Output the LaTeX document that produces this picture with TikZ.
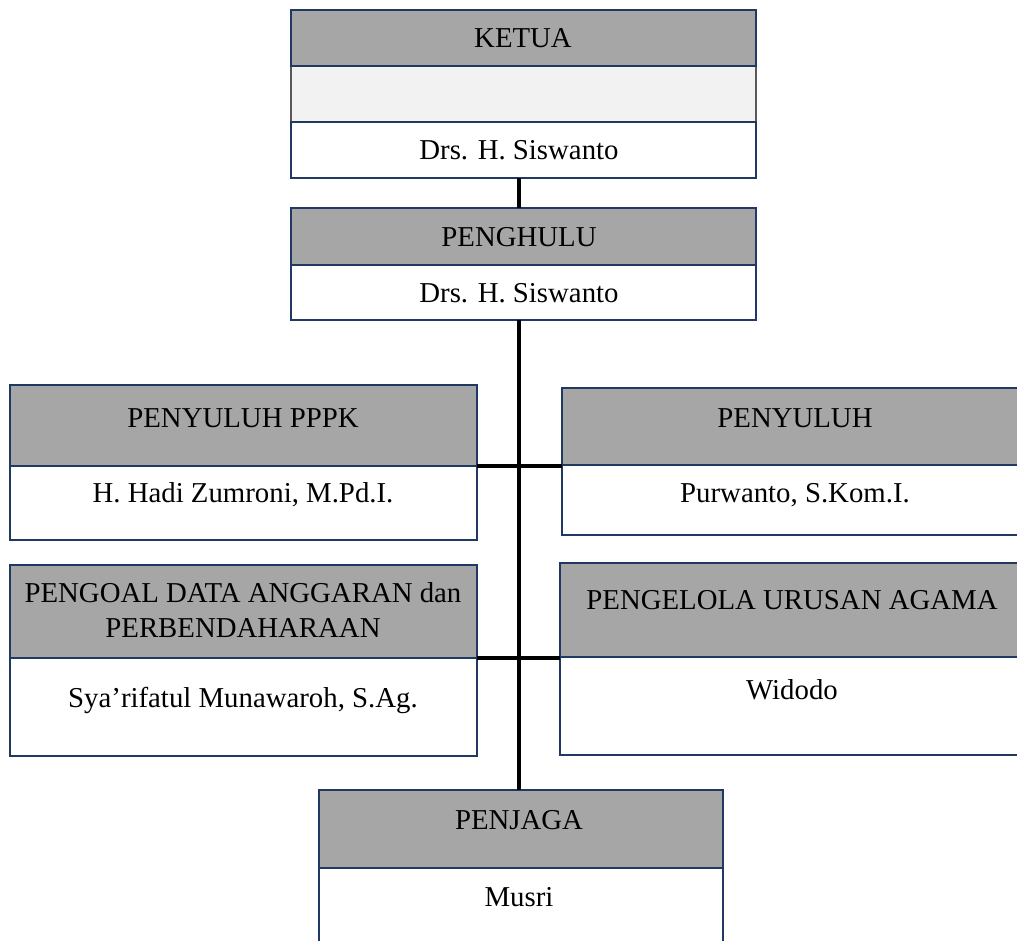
\documentclass[tikz,border=0pt]{standalone}
\usepackage{fontspec}
\setmainfont{Liberation Serif}
\usetikzlibrary{positioning}
\definecolor{navy}{HTML}{1F3864}
\definecolor{headgray}{HTML}{A6A6A6}
\definecolor{pale}{HTML}{F2F2F2}
\definecolor{sidegray}{HTML}{595959}

\begin{document}
\begin{tikzpicture}[x=1pt, y=-1pt,
			head/.style={draw=navy, line width=2.5pt, fill=headgray, inner sep=0pt, outer sep=0pt},
			namebox/.style={draw=navy, line width=2.5pt, fill=white, inner sep=0pt, outer sep=0pt},
			emptybox/.style={draw=sidegray, line width=2pt, fill=pale, inner sep=0pt, outer sep=0pt},
			txt/.style={inner sep=0pt, text height=19pt, text depth=0pt},
			conn/.style={line width=4.5pt, black},
			font=\fontsize{28.8}{34.5}\selectfont]
	\useasboundingbox (0,0) rectangle (1017,940);
	\clip (0,0) rectangle (1017,940);
	\coordinate (spine) at (519,0);
	% ketua
	\node[emptybox, minimum width=465pt, minimum height=56pt] (ketuaM) at (523.5,94) {};
	\node[head, minimum width=465pt, minimum height=56pt] (ketuaH) at (523.5,38) {};
	\node[namebox, minimum width=465pt, minimum height=56pt] (ketuaN) at (523.5,150) {};
	\node[txt] (ketuaT) at (523,38) {KETUA};
	\node[txt] (ketuaNm) at (519,150) {Drs. H. Siswanto};
	% penghulu
	\node[head, minimum width=465pt, minimum height=57pt] (pengH) at (523.5,236.5) {};
	\node[namebox, minimum width=465pt, minimum height=55pt] (pengN) at (523.5,292.5) {};
	\node[txt] (pengT) at (519,237) {PENGHULU};
	\node[txt] (pengNm) at (519,293) {Drs. H. Siswanto};
	% penyuluh pppk
	\node[head, minimum width=467pt, minimum height=81pt] (pppkH) at (243.5,425.5) {};
	\node[namebox, minimum width=467pt, minimum height=74pt] (pppkN) at (243.5,503) {};
	\node[txt] (pppkT) at (243,418) {PENYULUH PPPK};
	\node[txt] (pppkNm) at (243,493) {H. Hadi Zumroni, M.Pd.I.};
	% penyuluh
	\node[head, minimum width=466pt, minimum height=77pt] (penyH) at (795,426.5) {};
	\node[namebox, minimum width=466pt, minimum height=70pt] (penyN) at (795,500) {};
	\node[txt] (penyT) at (795,418) {PENYULUH};
	\node[txt] (penyNm) at (795,493) {Purwanto, S.Kom.I.};
	% data anggaran
	\node[head, minimum width=467pt, minimum height=93pt] (dataH) at (243.5,611.5) {};
	\node[namebox, minimum width=467pt, minimum height=98pt] (dataN) at (243.5,707) {};
	\node[inner sep=0pt, align=center] (dataT) at (243,610) {PENGOAL DATA ANGGARAN dan\\PERBENDAHARAAN};
	\node[txt] (dataNm) at (243,698) {Sya’rifatul Munawaroh, S.Ag.};
	% urusan agama
	\node[head, minimum width=466pt, minimum height=94pt] (agamaH) at (793,610) {};
	\node[namebox, minimum width=466pt, minimum height=98pt] (agamaN) at (793,706) {};
	\node[txt] (agamaT) at (792,600) {PENGELOLA URUSAN AGAMA};
	\node[txt] (agamaNm) at (792,690) {Widodo};
	% penjaga
	\node[head, minimum width=404pt, minimum height=78pt] (jagaH) at (521,829) {};
	\node[namebox, minimum width=404pt, minimum height=82pt] (jagaN) at (521,909) {};
	\node[txt] (jagaT) at (519,820) {PENJAGA};
	\node[txt] (jagaNm) at (519,897) {Musri};
	% garis
	\draw[conn] (ketuaN.south -| spine) -- (pengH.north -| spine);
	\draw[conn] (pengN.south -| spine) -- (jagaH.north -| spine);
	\draw[conn] (pppkH.south east) -- (pppkH.south east -| penyH.west);
	\draw[conn] (dataH.south east) -- (dataH.south east -| agamaH.west);
\end{tikzpicture}
\end{document}
